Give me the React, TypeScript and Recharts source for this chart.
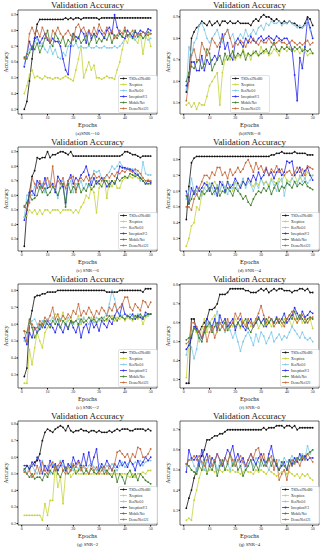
import { LineChart, Line, XAxis, YAxis, ReferenceArea } from 'recharts';

const EPOCHS = Array.from({ length: 50 }, (_, i) => i + 1);
const X_TICKS = [0, 10, 20, 30, 40, 50];

const SERIES = ['TSDeo2NetB0', 'Xception', 'ResNet50', 'InceptionV3', 'MobileNet', 'DenseNet121'];
const COLORS = ['#111111', '#c6d43a', '#7ec8ea', '#2a2aee', '#3f7f2a', '#c4693c'];

// (a) SNR=-10
const A_TSD = [0.30,0.35,0.48,0.62,0.75,0.84,0.87,0.87,0.87,0.87,0.87,0.87,0.87,0.87,0.87,0.87,0.88,0.87,0.88,0.87,0.88,0.88,0.87,0.88,0.88,0.88,0.88,0.88,0.88,0.87,0.88,0.88,0.88,0.88,0.88,0.88,0.88,0.88,0.88,0.88,0.88,0.88,0.88,0.88,0.88,0.88,0.88,0.88,0.88,0.88];
const A_XCP = [0.40,0.45,0.52,0.55,0.50,0.51,0.50,0.49,0.51,0.50,0.50,0.49,0.50,0.50,0.49,0.50,0.51,0.50,0.49,0.48,0.55,0.62,0.70,0.50,0.55,0.60,0.55,0.58,0.50,0.50,0.49,0.50,0.51,0.50,0.50,0.49,0.55,0.60,0.68,0.75,0.72,0.78,0.75,0.74,0.72,0.78,0.65,0.75,0.78,0.70];
const A_RES = [0.58,0.66,0.68,0.70,0.72,0.75,0.70,0.72,0.68,0.66,0.70,0.65,0.68,0.63,0.62,0.66,0.64,0.70,0.72,0.70,0.72,0.69,0.70,0.69,0.69,0.70,0.69,0.69,0.70,0.69,0.69,0.70,0.69,0.69,0.69,0.70,0.69,0.70,0.72,0.75,0.77,0.76,0.78,0.74,0.76,0.77,0.75,0.76,0.74,0.75];
const A_INC = [0.57,0.65,0.73,0.68,0.75,0.76,0.72,0.75,0.78,0.74,0.72,0.75,0.73,0.73,0.70,0.62,0.55,0.52,0.70,0.78,0.76,0.75,0.80,0.78,0.72,0.80,0.75,0.78,0.76,0.80,0.78,0.75,0.80,0.82,0.78,0.90,0.82,0.78,0.76,0.75,0.80,0.78,0.76,0.79,0.78,0.80,0.79,0.78,0.81,0.80];
const A_MOB = [0.63,0.62,0.66,0.70,0.68,0.72,0.66,0.70,0.75,0.80,0.72,0.70,0.78,0.75,0.72,0.76,0.70,0.74,0.72,0.78,0.73,0.76,0.72,0.74,0.77,0.71,0.74,0.78,0.72,0.75,0.73,0.76,0.74,0.78,0.72,0.77,0.75,0.78,0.76,0.80,0.77,0.78,0.75,0.80,0.76,0.78,0.75,0.77,0.79,0.78];
const A_DEN = [0.62,0.65,0.78,0.82,0.78,0.80,0.76,0.82,0.78,0.75,0.72,0.80,0.78,0.82,0.78,0.76,0.78,0.80,0.77,0.74,0.82,0.84,0.80,0.82,0.78,0.80,0.77,0.82,0.78,0.84,0.80,0.78,0.82,0.78,0.80,0.75,0.77,0.80,0.78,0.82,0.76,0.78,0.80,0.76,0.78,0.77,0.79,0.78,0.77,0.78];

// (b) SNR=-8
const B_TSD = [0.55,0.62,0.80,0.83,0.85,0.86,0.88,0.87,0.86,0.88,0.86,0.87,0.88,0.86,0.88,0.88,0.87,0.88,0.87,0.87,0.88,0.87,0.87,0.87,0.87,0.86,0.88,0.89,0.88,0.90,0.91,0.90,0.90,0.89,0.88,0.89,0.88,0.87,0.88,0.87,0.88,0.87,0.87,0.86,0.85,0.85,0.87,0.90,0.89,0.86];
const B_XCP = [0.49,0.50,0.48,0.50,0.47,0.50,0.49,0.49,0.53,0.58,0.60,0.62,0.64,0.49,0.64,0.70,0.72,0.70,0.74,0.70,0.72,0.71,0.75,0.72,0.73,0.70,0.74,0.73,0.72,0.76,0.73,0.74,0.72,0.73,0.75,0.74,0.72,0.76,0.75,0.74,0.76,0.75,0.74,0.75,0.73,0.75,0.74,0.72,0.73,0.73];
const B_RES = [0.56,0.76,0.72,0.78,0.80,0.86,0.87,0.84,0.80,0.78,0.80,0.82,0.84,0.80,0.78,0.82,0.84,0.80,0.82,0.78,0.80,0.82,0.80,0.84,0.81,0.82,0.84,0.82,0.85,0.86,0.84,0.87,0.86,0.88,0.87,0.87,0.88,0.86,0.87,0.87,0.88,0.87,0.86,0.85,0.86,0.85,0.86,0.88,0.84,0.80];
const B_INC = [0.58,0.60,0.69,0.69,0.65,0.65,0.72,0.65,0.70,0.68,0.70,0.72,0.70,0.76,0.82,0.75,0.78,0.72,0.70,0.78,0.80,0.78,0.76,0.80,0.78,0.81,0.79,0.78,0.80,0.81,0.79,0.80,0.81,0.80,0.79,0.81,0.80,0.79,0.80,0.80,0.78,0.75,0.63,0.51,0.71,0.66,0.76,0.89,0.85,0.80];
const B_MOB = [0.60,0.64,0.67,0.66,0.69,0.70,0.66,0.68,0.75,0.73,0.65,0.68,0.70,0.72,0.68,0.73,0.70,0.72,0.74,0.71,0.73,0.72,0.74,0.70,0.73,0.72,0.73,0.74,0.72,0.73,0.74,0.75,0.73,0.76,0.78,0.75,0.74,0.76,0.75,0.76,0.75,0.74,0.76,0.75,0.76,0.74,0.75,0.74,0.75,0.73];
const B_DEN = [0.51,0.60,0.72,0.75,0.70,0.70,0.78,0.75,0.72,0.75,0.80,0.78,0.76,0.78,0.80,0.82,0.84,0.80,0.76,0.78,0.77,0.79,0.78,0.76,0.79,0.78,0.80,0.78,0.77,0.79,0.78,0.78,0.80,0.78,0.77,0.78,0.79,0.78,0.78,0.77,0.78,0.79,0.78,0.77,0.78,0.77,0.78,0.79,0.77,0.78];

// (c) SNR=-6
const C_TSD = [0.25,0.50,0.62,0.73,0.77,0.86,0.85,0.86,0.86,0.90,0.86,0.88,0.88,0.89,0.90,0.90,0.89,0.88,0.90,0.87,0.87,0.87,0.87,0.87,0.87,0.87,0.87,0.87,0.87,0.87,0.87,0.87,0.87,0.87,0.87,0.87,0.87,0.87,0.88,0.90,0.90,0.89,0.88,0.88,0.87,0.86,0.87,0.87,0.87,0.87];
const C_XCP = [0.45,0.46,0.50,0.48,0.50,0.47,0.50,0.47,0.50,0.50,0.48,0.50,0.50,0.50,0.48,0.50,0.50,0.50,0.50,0.48,0.50,0.48,0.52,0.55,0.60,0.58,0.65,0.62,0.48,0.65,0.70,0.72,0.58,0.70,0.66,0.70,0.65,0.65,0.70,0.72,0.72,0.73,0.72,0.74,0.72,0.70,0.72,0.70,0.71,0.70];
const C_RES = [0.45,0.60,0.62,0.60,0.66,0.70,0.64,0.68,0.62,0.66,0.70,0.66,0.64,0.58,0.68,0.70,0.64,0.66,0.70,0.62,0.68,0.66,0.70,0.64,0.68,0.66,0.70,0.77,0.76,0.77,0.72,0.70,0.74,0.76,0.80,0.78,0.80,0.83,0.80,0.78,0.79,0.78,0.78,0.77,0.75,0.70,0.83,0.75,0.74,0.74];
const C_INC = [0.43,0.50,0.62,0.63,0.60,0.70,0.68,0.65,0.72,0.65,0.66,0.68,0.62,0.73,0.70,0.66,0.55,0.70,0.74,0.68,0.72,0.70,0.74,0.76,0.80,0.74,0.67,0.72,0.68,0.70,0.72,0.70,0.66,0.68,0.70,0.68,0.72,0.80,0.79,0.79,0.78,0.78,0.77,0.75,0.74,0.72,0.70,0.68,0.70,0.69];
const C_MOB = [0.52,0.55,0.60,0.57,0.58,0.60,0.66,0.62,0.65,0.60,0.62,0.66,0.64,0.60,0.65,0.68,0.52,0.68,0.62,0.66,0.64,0.68,0.62,0.65,0.63,0.68,0.64,0.66,0.70,0.68,0.66,0.70,0.70,0.66,0.70,0.68,0.72,0.70,0.72,0.73,0.72,0.75,0.74,0.73,0.74,0.72,0.70,0.68,0.68,0.68];
const C_DEN = [0.53,0.50,0.55,0.72,0.68,0.65,0.70,0.65,0.68,0.72,0.66,0.80,0.66,0.70,0.68,0.72,0.65,0.70,0.72,0.73,0.62,0.70,0.72,0.70,0.73,0.70,0.72,0.75,0.72,0.73,0.70,0.72,0.74,0.72,0.75,0.73,0.76,0.75,0.77,0.76,0.78,0.77,0.76,0.78,0.77,0.75,0.72,0.70,0.70,0.70];

// (d) SNR=-4
const D_TSD = [0.42,0.63,0.78,0.81,0.82,0.82,0.82,0.82,0.82,0.82,0.82,0.82,0.82,0.82,0.82,0.82,0.82,0.82,0.82,0.82,0.82,0.82,0.82,0.82,0.82,0.82,0.82,0.82,0.82,0.82,0.82,0.82,0.82,0.83,0.83,0.84,0.84,0.85,0.84,0.84,0.84,0.84,0.85,0.84,0.84,0.84,0.84,0.83,0.83,0.83];
const D_XCP = [0.25,0.30,0.38,0.40,0.50,0.48,0.58,0.62,0.66,0.62,0.64,0.66,0.63,0.60,0.65,0.62,0.66,0.64,0.60,0.66,0.64,0.62,0.66,0.64,0.68,0.65,0.63,0.66,0.64,0.68,0.65,0.66,0.64,0.68,0.66,0.65,0.68,0.66,0.70,0.67,0.66,0.68,0.70,0.66,0.68,0.70,0.68,0.72,0.70,0.70];
const D_RES = [0.55,0.60,0.68,0.60,0.60,0.62,0.57,0.62,0.60,0.65,0.62,0.58,0.64,0.60,0.66,0.62,0.58,0.64,0.62,0.66,0.60,0.64,0.68,0.62,0.66,0.64,0.60,0.65,0.62,0.68,0.64,0.66,0.62,0.67,0.64,0.60,0.66,0.68,0.57,0.66,0.64,0.68,0.66,0.64,0.70,0.66,0.68,0.65,0.67,0.70];
const D_INC = [0.60,0.52,0.62,0.58,0.63,0.60,0.62,0.65,0.64,0.60,0.65,0.62,0.57,0.66,0.64,0.60,0.66,0.62,0.64,0.68,0.65,0.62,0.66,0.64,0.68,0.66,0.70,0.67,0.72,0.68,0.70,0.74,0.70,0.72,0.68,0.72,0.74,0.70,0.72,0.79,0.78,0.79,0.70,0.72,0.75,0.70,0.73,0.75,0.70,0.67];
const D_MOB = [0.57,0.52,0.55,0.60,0.58,0.55,0.60,0.58,0.60,0.62,0.58,0.60,0.62,0.57,0.60,0.59,0.62,0.60,0.57,0.62,0.60,0.58,0.55,0.57,0.53,0.51,0.55,0.58,0.60,0.59,0.62,0.60,0.63,0.58,0.62,0.65,0.60,0.63,0.62,0.65,0.64,0.62,0.66,0.63,0.65,0.64,0.66,0.63,0.62,0.61];
const D_DEN = [0.50,0.50,0.48,0.55,0.58,0.62,0.66,0.70,0.70,0.68,0.72,0.70,0.75,0.75,0.70,0.72,0.68,0.74,0.70,0.72,0.75,0.72,0.74,0.78,0.80,0.76,0.72,0.78,0.74,0.76,0.72,0.75,0.70,0.74,0.72,0.76,0.72,0.74,0.70,0.72,0.73,0.70,0.72,0.75,0.72,0.74,0.70,0.76,0.75,0.74];

// (e) SNR=-2
const E_TSD = [0.29,0.34,0.60,0.68,0.76,0.77,0.77,0.78,0.78,0.79,0.79,0.79,0.79,0.80,0.80,0.80,0.80,0.80,0.80,0.80,0.80,0.80,0.80,0.80,0.80,0.80,0.80,0.80,0.80,0.80,0.80,0.80,0.79,0.79,0.79,0.79,0.79,0.80,0.80,0.80,0.80,0.80,0.80,0.80,0.80,0.80,0.79,0.81,0.81,0.81];
const E_XCP = [0.25,0.25,0.45,0.36,0.46,0.55,0.50,0.46,0.55,0.58,0.60,0.62,0.66,0.65,0.62,0.67,0.60,0.62,0.64,0.60,0.62,0.65,0.60,0.63,0.62,0.60,0.64,0.62,0.61,0.63,0.62,0.64,0.62,0.63,0.65,0.62,0.64,0.63,0.65,0.62,0.64,0.63,0.62,0.64,0.63,0.65,0.60,0.64,0.65,0.66];
const E_RES = [0.50,0.55,0.60,0.62,0.63,0.60,0.58,0.62,0.60,0.63,0.62,0.64,0.62,0.60,0.63,0.62,0.60,0.64,0.62,0.60,0.62,0.63,0.61,0.64,0.62,0.60,0.63,0.61,0.64,0.62,0.63,0.64,0.66,0.72,0.80,0.75,0.68,0.66,0.65,0.66,0.64,0.66,0.65,0.64,0.66,0.65,0.64,0.66,0.65,0.66];
const E_INC = [0.52,0.48,0.55,0.52,0.58,0.55,0.57,0.60,0.58,0.62,0.60,0.58,0.55,0.60,0.58,0.55,0.60,0.57,0.62,0.58,0.55,0.60,0.52,0.58,0.60,0.55,0.62,0.58,0.60,0.56,0.62,0.60,0.58,0.62,0.60,0.65,0.68,0.65,0.72,0.66,0.65,0.64,0.66,0.63,0.65,0.64,0.63,0.67,0.66,0.66];
const E_MOB = [0.56,0.55,0.63,0.58,0.52,0.55,0.60,0.58,0.62,0.60,0.58,0.62,0.60,0.63,0.58,0.62,0.60,0.58,0.62,0.61,0.62,0.60,0.63,0.61,0.62,0.64,0.62,0.63,0.61,0.63,0.64,0.62,0.63,0.65,0.63,0.64,0.62,0.65,0.64,0.63,0.65,0.64,0.63,0.65,0.64,0.66,0.64,0.65,0.66,0.66];
const E_DEN = [0.56,0.50,0.62,0.60,0.57,0.58,0.62,0.60,0.64,0.62,0.65,0.70,0.63,0.66,0.62,0.65,0.63,0.66,0.64,0.68,0.66,0.72,0.65,0.68,0.66,0.70,0.67,0.64,0.68,0.66,0.70,0.68,0.65,0.70,0.68,0.72,0.68,0.70,0.72,0.76,0.76,0.70,0.68,0.72,0.70,0.68,0.74,0.73,0.70,0.73];

// (f) SNR=0
const F_TSD = [0.28,0.28,0.62,0.62,0.55,0.55,0.58,0.60,0.62,0.67,0.67,0.68,0.70,0.75,0.75,0.75,0.76,0.78,0.78,0.78,0.78,0.78,0.78,0.77,0.77,0.76,0.76,0.76,0.77,0.78,0.77,0.78,0.76,0.77,0.78,0.77,0.78,0.78,0.77,0.77,0.77,0.76,0.77,0.77,0.78,0.78,0.77,0.78,0.76,0.76];
const F_XCP = [0.31,0.50,0.55,0.57,0.55,0.50,0.57,0.62,0.55,0.60,0.62,0.64,0.55,0.60,0.58,0.62,0.56,0.60,0.58,0.62,0.60,0.57,0.61,0.59,0.62,0.58,0.60,0.62,0.57,0.60,0.62,0.59,0.61,0.58,0.60,0.62,0.60,0.58,0.62,0.60,0.61,0.58,0.62,0.60,0.64,0.60,0.62,0.60,0.62,0.57];
const F_RES = [0.43,0.50,0.47,0.41,0.46,0.55,0.50,0.55,0.60,0.58,0.55,0.62,0.66,0.60,0.58,0.55,0.60,0.56,0.52,0.55,0.50,0.45,0.50,0.53,0.55,0.52,0.48,0.54,0.50,0.55,0.53,0.49,0.52,0.55,0.50,0.52,0.54,0.51,0.53,0.52,0.55,0.58,0.56,0.54,0.52,0.55,0.52,0.51,0.52,0.50];
const F_INC = [0.46,0.48,0.52,0.58,0.57,0.55,0.52,0.55,0.62,0.60,0.58,0.62,0.56,0.64,0.60,0.62,0.58,0.60,0.62,0.56,0.60,0.62,0.58,0.56,0.60,0.62,0.58,0.60,0.63,0.60,0.62,0.58,0.60,0.62,0.60,0.63,0.60,0.62,0.65,0.60,0.62,0.64,0.68,0.65,0.62,0.66,0.63,0.64,0.66,0.65];
const F_MOB = [0.51,0.52,0.53,0.57,0.56,0.52,0.50,0.55,0.58,0.60,0.55,0.58,0.60,0.56,0.58,0.60,0.56,0.58,0.60,0.58,0.60,0.58,0.60,0.62,0.57,0.55,0.58,0.60,0.62,0.60,0.58,0.62,0.60,0.62,0.60,0.62,0.60,0.62,0.60,0.62,0.64,0.62,0.66,0.62,0.64,0.62,0.60,0.62,0.63,0.62];
const F_DEN = [0.49,0.50,0.60,0.60,0.58,0.55,0.52,0.58,0.50,0.55,0.58,0.52,0.56,0.60,0.58,0.56,0.62,0.58,0.60,0.65,0.62,0.65,0.60,0.58,0.62,0.60,0.58,0.62,0.65,0.69,0.64,0.60,0.63,0.62,0.58,0.60,0.62,0.60,0.58,0.62,0.64,0.66,0.62,0.60,0.62,0.64,0.62,0.60,0.62,0.63];

// (g) SNR=2
const G_TSD = [0.52,0.55,0.53,0.55,0.57,0.58,0.62,0.70,0.75,0.77,0.76,0.75,0.77,0.78,0.79,0.78,0.76,0.79,0.76,0.75,0.76,0.76,0.77,0.76,0.76,0.75,0.76,0.76,0.75,0.76,0.75,0.75,0.75,0.76,0.75,0.76,0.77,0.76,0.77,0.77,0.77,0.76,0.76,0.77,0.77,0.77,0.77,0.76,0.77,0.76];
const G_XCP = [0.25,0.25,0.25,0.25,0.25,0.25,0.25,0.22,0.32,0.25,0.34,0.34,0.55,0.42,0.48,0.32,0.50,0.55,0.48,0.50,0.52,0.50,0.50,0.50,0.50,0.50,0.50,0.50,0.50,0.50,0.50,0.50,0.50,0.50,0.50,0.50,0.50,0.50,0.50,0.50,0.49,0.48,0.50,0.48,0.50,0.50,0.51,0.50,0.52,0.52];
const G_RES = [0.52,0.50,0.55,0.55,0.52,0.50,0.54,0.58,0.52,0.55,0.50,0.56,0.52,0.54,0.58,0.55,0.52,0.54,0.56,0.52,0.55,0.53,0.56,0.54,0.52,0.55,0.57,0.54,0.52,0.56,0.54,0.52,0.55,0.53,0.56,0.54,0.52,0.55,0.57,0.54,0.56,0.58,0.55,0.57,0.56,0.58,0.55,0.57,0.58,0.58];
const G_INC = [0.55,0.55,0.53,0.57,0.55,0.60,0.58,0.50,0.55,0.52,0.58,0.54,0.56,0.52,0.55,0.58,0.52,0.56,0.54,0.60,0.56,0.58,0.55,0.62,0.55,0.63,0.55,0.60,0.65,0.52,0.56,0.54,0.58,0.55,0.52,0.56,0.54,0.58,0.55,0.57,0.54,0.58,0.56,0.52,0.58,0.55,0.57,0.60,0.58,0.60];
const G_MOB = [0.53,0.50,0.48,0.50,0.47,0.48,0.48,0.46,0.50,0.48,0.52,0.50,0.55,0.50,0.48,0.52,0.54,0.50,0.52,0.55,0.50,0.52,0.54,0.50,0.52,0.50,0.53,0.51,0.50,0.52,0.54,0.50,0.52,0.50,0.48,0.52,0.45,0.50,0.48,0.44,0.50,0.52,0.48,0.50,0.46,0.50,0.48,0.46,0.45,0.44];
const G_DEN = [0.51,0.50,0.52,0.48,0.50,0.55,0.50,0.57,0.52,0.50,0.55,0.57,0.52,0.55,0.57,0.52,0.50,0.55,0.52,0.56,0.54,0.57,0.52,0.55,0.53,0.50,0.55,0.52,0.54,0.50,0.52,0.54,0.50,0.55,0.52,0.56,0.63,0.64,0.62,0.60,0.62,0.58,0.62,0.60,0.66,0.65,0.60,0.60,0.62,0.65];

// (g) SNR=4
const H_TSD = [0.31,0.36,0.40,0.46,0.50,0.55,0.57,0.60,0.65,0.65,0.66,0.67,0.67,0.68,0.68,0.69,0.70,0.70,0.70,0.70,0.70,0.70,0.70,0.70,0.70,0.70,0.70,0.70,0.70,0.70,0.71,0.70,0.71,0.71,0.71,0.72,0.72,0.72,0.71,0.72,0.72,0.71,0.72,0.70,0.71,0.71,0.71,0.71,0.71,0.71];
const H_XCP = [0.25,0.26,0.25,0.35,0.40,0.46,0.50,0.50,0.49,0.50,0.50,0.49,0.50,0.50,0.49,0.50,0.50,0.49,0.50,0.49,0.49,0.48,0.49,0.50,0.49,0.49,0.48,0.50,0.49,0.50,0.49,0.48,0.50,0.49,0.48,0.47,0.48,0.49,0.50,0.48,0.49,0.48,0.47,0.48,0.46,0.48,0.47,0.48,0.46,0.45];
const H_RES = [0.52,0.55,0.56,0.52,0.50,0.55,0.53,0.50,0.54,0.56,0.52,0.55,0.50,0.54,0.52,0.56,0.53,0.50,0.54,0.52,0.55,0.52,0.54,0.50,0.53,0.55,0.52,0.56,0.54,0.52,0.55,0.53,0.50,0.54,0.56,0.52,0.55,0.53,0.56,0.54,0.55,0.57,0.54,0.56,0.55,0.58,0.56,0.62,0.58,0.60];
const H_INC = [0.49,0.60,0.56,0.55,0.57,0.52,0.60,0.55,0.58,0.52,0.56,0.54,0.58,0.55,0.52,0.56,0.60,0.58,0.62,0.55,0.58,0.54,0.56,0.52,0.55,0.58,0.55,0.53,0.56,0.58,0.55,0.52,0.58,0.62,0.55,0.52,0.50,0.52,0.54,0.50,0.55,0.53,0.56,0.54,0.58,0.55,0.57,0.55,0.56,0.56];
const H_MOB = [0.53,0.52,0.50,0.49,0.48,0.52,0.50,0.55,0.48,0.52,0.50,0.54,0.47,0.52,0.55,0.50,0.53,0.58,0.52,0.55,0.50,0.52,0.47,0.50,0.52,0.55,0.50,0.53,0.50,0.55,0.52,0.54,0.56,0.52,0.55,0.53,0.50,0.54,0.52,0.50,0.55,0.52,0.54,0.56,0.55,0.57,0.56,0.58,0.59,0.60];
const H_DEN = [0.53,0.55,0.55,0.57,0.55,0.57,0.54,0.52,0.55,0.57,0.52,0.55,0.58,0.55,0.53,0.56,0.54,0.58,0.55,0.52,0.55,0.57,0.54,0.52,0.55,0.58,0.56,0.60,0.61,0.55,0.58,0.52,0.55,0.57,0.50,0.55,0.45,0.48,0.50,0.45,0.52,0.55,0.53,0.55,0.52,0.56,0.55,0.58,0.56,0.54];

const CAPTIONS = ['(a)SNR=-10', '(b)SNR=-8', '(c) SNR=-6', '(d) SNR=-4', '(e) SNR=-2', '(f) SNR=0', '(g) SNR=2', '(g) SNR=4'];
const Y_TICKS = [
  [0.3, 0.4, 0.5, 0.6, 0.7, 0.8, 0.9],
  [0.5, 0.6, 0.7, 0.8, 0.9],
  [0.3, 0.4, 0.5, 0.6, 0.7, 0.8, 0.9],
  [0.3, 0.4, 0.5, 0.6, 0.7, 0.8],
  [0.3, 0.4, 0.5, 0.6, 0.7, 0.8],
  [0.3, 0.4, 0.5, 0.6, 0.7, 0.8],
  [0.2, 0.3, 0.4, 0.5, 0.6, 0.7, 0.8],
  [0.3, 0.4, 0.5, 0.6, 0.7],
];

const PANELS = [
  [A_TSD, A_XCP, A_RES, A_INC, A_MOB, A_DEN],
  [B_TSD, B_XCP, B_RES, B_INC, B_MOB, B_DEN],
  [C_TSD, C_XCP, C_RES, C_INC, C_MOB, C_DEN],
  [D_TSD, D_XCP, D_RES, D_INC, D_MOB, D_DEN],
  [E_TSD, E_XCP, E_RES, E_INC, E_MOB, E_DEN],
  [F_TSD, F_XCP, F_RES, F_INC, F_MOB, F_DEN],
  [G_TSD, G_XCP, G_RES, G_INC, G_MOB, G_DEN],
  [H_TSD, H_XCP, H_RES, H_INC, H_MOB, H_DEN],
];

const FONT = "'Liberation Serif', 'DejaVu Serif', serif";
const W = 162;
const H = 137;
const PLOT = { left: 18, right: 5, top: 10, bottom: 23 };

// matplotlib-style 5% auto margins
function pad(lo: number, hi: number) {
  const m = (hi - lo) * 0.05;
  return [lo - m, hi + m];
}

function Legend({ x, y }: { x: number; y: number }) {
  return (
    <svg width={40} height={38} style={{ position: 'absolute', left: x, top: y }}>
      <rect x={0.5} y={0.5} width={39} height={37} rx={1.5} fill="#fff" fillOpacity={0.85} stroke="#d0d0d0" strokeWidth={0.6} />
      {SERIES.map((name, i) => {
        const cy = 3.5 + i * 6;
        return (
          <g key={name}>
            <line x1={2} x2={9} y1={cy} y2={cy} stroke={COLORS[i]} strokeWidth={0.8} />
            <circle cx={5.5} cy={cy} r={0.9} fill={COLORS[i]} />
            <text x={11} y={cy + 1.3} fontSize={3.6} fontFamily={FONT} fill="#222">{name}</text>
          </g>
        );
      })}
    </svg>
  );
}

function Panel({ idx }: { idx: number }) {
  const series = PANELS[idx];
  const rows = EPOCHS.map((e, i) => {
    const r: Record<string, number> = { epoch: e };
    series.forEach((s, k) => (r['s' + k] = s[i]));
    return r;
  });
  const all = series.flat();
  const [ylo, yhi] = pad(Math.min(...all), Math.max(...all));
  const [xlo, xhi] = pad(EPOCHS[0], EPOCHS[EPOCHS.length - 1]);
  const col = idx % 2;
  const row = Math.floor(idx / 2);
  const plotCx = PLOT.left + (W - PLOT.left - PLOT.right) / 2;
  const plotCy = PLOT.top + (H - PLOT.top - PLOT.bottom) / 2;
  const legendX = idx === 1 ? 68 : 118;

  return (
    <div style={{ position: 'absolute', left: col * W, top: row * H, width: W, height: H, fontFamily: FONT }}>
      <div style={{ position: 'absolute', left: plotCx - 60, width: 120, top: 0, textAlign: 'center', fontSize: 9, lineHeight: '10px', color: '#222' }}>
        Validation Accuracy
      </div>
      <LineChart width={W} height={H} data={rows} margin={{ top: PLOT.top, right: PLOT.right, bottom: 15, left: 0 }}>
        <XAxis
          dataKey="epoch"
          type="number"
          domain={[xlo, xhi]}
          allowDataOverflow
          ticks={X_TICKS}
          height={8}
          axisLine={false}
          tickSize={1.5}
          tickMargin={0.5}
          stroke="#000"
          tick={{ fontSize: 4, fill: '#333', fontFamily: FONT }}
        />
        <YAxis
          type="number"
          domain={[ylo, yhi]}
          allowDataOverflow
          ticks={Y_TICKS[idx]}
          width={18}
          axisLine={false}
          tickSize={1.5}
          tickMargin={0.5}
          stroke="#000"
          tickFormatter={(v: number) => v.toFixed(1)}
          tick={{ fontSize: 4, fill: '#333', fontFamily: FONT }}
        />
        <ReferenceArea x1={xlo} x2={xhi} y1={ylo} y2={yhi} fill="none" stroke="#000" strokeWidth={0.6} ifOverflow="visible" />
        {SERIES.map((name, k) => (
          <Line
            key={name}
            dataKey={'s' + k}
            name={name}
            type="linear"
            stroke={COLORS[k]}
            strokeWidth={0.8}
            dot={{ r: 0.9, fill: COLORS[k], stroke: 'none', strokeWidth: 0 }}
            isAnimationActive={false}
          />
        ))}
      </LineChart>
      <div style={{ position: 'absolute', left: 6 - 30, top: plotCy - 4, width: 60, textAlign: 'center', fontSize: 5.5, lineHeight: '8px', transform: 'rotate(-90deg)', color: '#222' }}>
        Accuracy
      </div>
      <div style={{ position: 'absolute', left: plotCx - 30, top: 121, width: 60, textAlign: 'center', fontSize: 6.5, lineHeight: '8px', color: '#222' }}>
        Epochs
      </div>
      <div style={{ position: 'absolute', left: plotCx - 40, top: 129.5, width: 80, textAlign: 'center', fontSize: 4.8, lineHeight: '7px', color: '#222' }}>
        {CAPTIONS[idx]}
      </div>
      <Legend x={legendX} y={75} />
    </div>
  );
}

export default function App() {
  return (
    <div style={{ position: 'absolute', left: 0, top: 0, width: 324, height: 550, background: '#fff' }}>
      {PANELS.map((_, i) => (
        <Panel key={i} idx={i} />
      ))}
    </div>
  );
}
